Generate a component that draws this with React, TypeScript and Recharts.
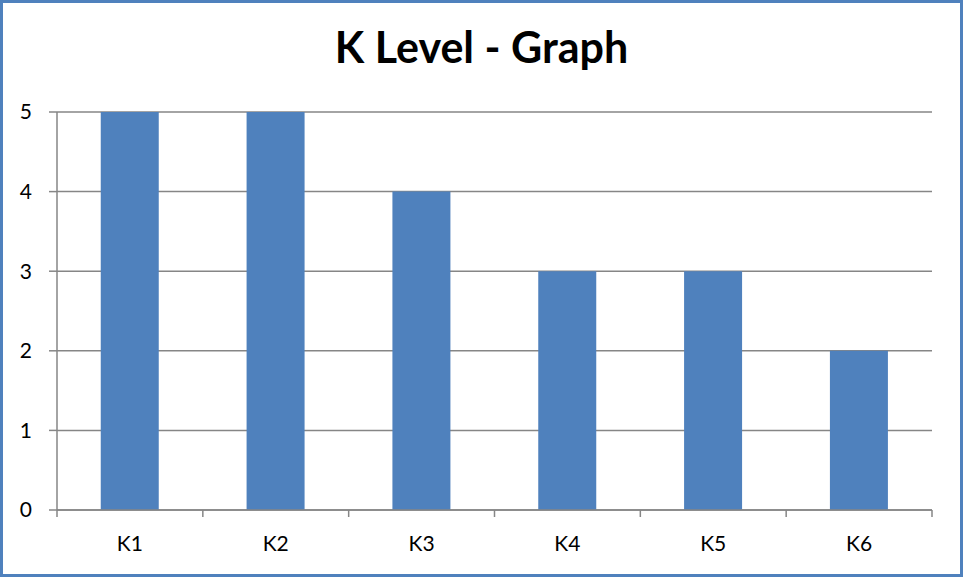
import { Bar, BarChart, CartesianGrid, XAxis, YAxis } from 'recharts'

const levels = ['K1', 'K2', 'K3', 'K4', 'K5', 'K6']
const counts = [5, 5, 4, 3, 3, 2]
const yTicks = [0, 1, 2, 3, 4, 5]

const data = levels.map((level, i) => ({ level, count: counts[i] }))

const FONT = 'Lato, "Open Sans", sans-serif'
const AXIS = '#868686'
const BLUE = '#4F81BD'

// category tick: label in the middle, tick marks on the band edges (Excel style)
function EdgeTick(props: any) {
  const { x, y, payload, index, visibleTicksCount } = props
  const half = payload?.offset ?? 0
  const last = index === visibleTicksCount - 1
  return (
    <g>
      <line x1={x - half} x2={x - half} y1={y - 26} y2={y - 19} stroke={AXIS} strokeWidth={1.5} />
      {last && <line x1={x + half} x2={x + half} y1={y - 26} y2={y - 19} stroke={AXIS} strokeWidth={1.5} />}
      <text x={x} y={y} dy="0.71em" textAnchor="middle" fill="#000" fontSize={21} fontFamily={FONT}>
        {payload.value}
      </text>
    </g>
  )
}

export default function App() {
  return (
    <div
      style={{
        position: 'fixed',
        left: 0,
        top: 0,
        width: 963,
        height: 577,
        background: '#fff',
        boxSizing: 'border-box',
        border: `3px solid ${BLUE}`,
      }}
    >
      <div
        style={{
          position: 'absolute',
          left: 0,
          right: 0,
          top: 21,
          textAlign: 'center',
          fontFamily: FONT,
          fontWeight: 700,
          fontSize: 43,
          lineHeight: '46px',
          color: '#000',
        }}
      >
        K Level - Graph
      </div>
      <div style={{ position: 'absolute', left: -3, top: -3 }}>
        <BarChart
          width={963}
          height={577}
          data={data}
          margin={{ top: 112, right: 31, bottom: 37, left: 0 }}
          barCategoryGap="30%"
        >
          <CartesianGrid vertical={false} stroke={AXIS} strokeWidth={1.5} />
          <XAxis
            dataKey="level"
            height={30}
            axisLine={{ stroke: AXIS, strokeWidth: 1.5 }}
            tickLine={false}
            interval={0}
            tick={<EdgeTick />}
            tickSize={0}
            tickMargin={26}
          />
          <YAxis
            width={57}
            domain={[0, 5]}
            ticks={yTicks}
            interval={0}
            axisLine={{ stroke: AXIS, strokeWidth: 1.5 }}
            tickLine={{ stroke: AXIS, strokeWidth: 1.5 }}
            tickSize={8}
            tickMargin={17}
            tick={{ fill: '#000', fontSize: 21, fontFamily: FONT }}
          />
          <Bar dataKey="count" fill={BLUE} isAnimationActive={false} />
        </BarChart>
      </div>
    </div>
  )
}
